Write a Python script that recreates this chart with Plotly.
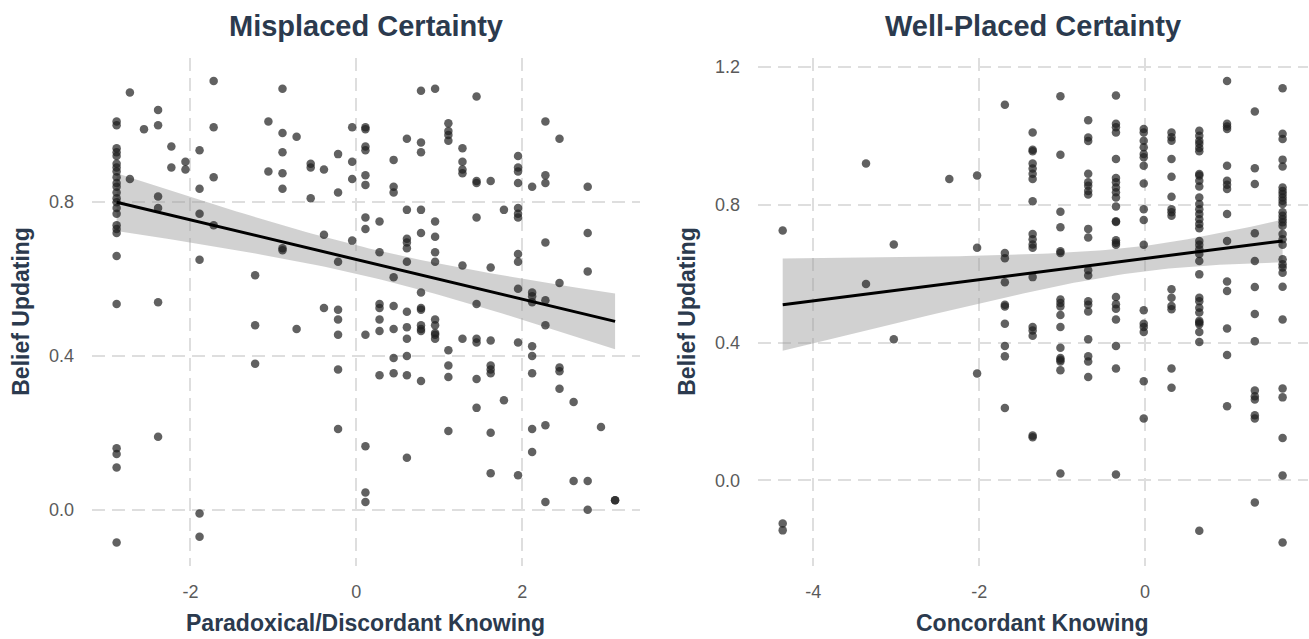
import numpy as np
import plotly.graph_objects as go

# ---------------- data ----------------
panel_titles = ["Misplaced Certainty", "Well-Placed Certainty"]
x_titles = ["Paradoxical/Discordant Knowing", "Concordant Knowing"]
y_title = "Belief Updating"

left_cols = {
    -2.89: [1.01, 1.0, 0.94, 0.93, 0.92, 0.90, 0.89, 0.88, 0.865, 0.85, 0.84, 0.825, 0.81, 0.80,
            0.785, 0.77, 0.74, 0.73, 0.72, 0.66, 0.535, 0.16, 0.145, 0.11, -0.085],
    -2.73: [1.085, 0.86],
    -2.56: [0.99],
    -2.39: [1.04, 1.0, 0.815, 0.785, 0.54, 0.19],
    -2.23: [0.945, 0.89],
    -2.06: [0.905, 0.885],
    -1.89: [0.935, 0.835, 0.77, 0.65, -0.01, -0.07],
    -1.72: [1.115, 0.995, 0.865, 0.74],
    -1.22: [0.61, 0.48, 0.38],
    -1.06: [1.01, 0.88],
    -0.89: [1.095, 0.98, 0.93, 0.875, 0.835, 0.68, 0.675],
    -0.72: [0.97, 0.47],
    -0.55: [0.90, 0.89, 0.81],
    -0.39: [0.885, 0.715, 0.525],
    -0.22: [0.925, 0.825, 0.645, 0.52, 0.495, 0.455, 0.365, 0.21],
    -0.05: [0.995, 0.905, 0.86, 0.70],
    0.11: [0.995, 0.99, 0.945, 0.935, 0.87, 0.845, 0.76, 0.73, 0.455, 0.165, 0.045, 0.02],
    0.28: [0.75, 0.67, 0.535, 0.525, 0.495, 0.465, 0.35],
    0.45: [0.91, 0.84, 0.825, 0.605, 0.53, 0.47, 0.395, 0.355],
    0.61: [0.965, 0.78, 0.705, 0.695, 0.68, 0.645, 0.515, 0.475, 0.445, 0.40, 0.35, 0.135],
    0.78: [1.09, 0.955, 0.93, 0.78, 0.72, 0.565, 0.525, 0.52, 0.48, 0.47, 0.465, 0.335],
    0.95: [1.095, 0.75, 0.71, 0.67, 0.645, 0.495, 0.48, 0.46, 0.455, 0.445],
    1.11: [1.005, 0.985, 0.975, 0.96, 0.415, 0.375, 0.345, 0.205],
    1.28: [0.94, 0.905, 0.885, 0.875, 0.635, 0.445],
    1.45: [1.075, 0.855, 0.85, 0.76, 0.535, 0.445, 0.435, 0.34, 0.265],
    1.62: [0.855, 0.63, 0.44, 0.375, 0.365, 0.355, 0.20, 0.095],
    1.78: [0.78, 0.285],
    1.95: [0.92, 0.89, 0.88, 0.85, 0.785, 0.77, 0.76, 0.665, 0.645, 0.575, 0.435, 0.09],
    2.12: [0.84, 0.565, 0.555, 0.54, 0.425, 0.40, 0.355, 0.21, 0.15],
    2.28: [1.01, 0.87, 0.85, 0.695, 0.545, 0.48, 0.22, 0.02],
    2.45: [0.965, 0.59, 0.37, 0.36, 0.315],
    2.62: [0.28, 0.075],
    2.79: [0.84, 0.72, 0.62, 0.075, 0.0],
    2.95: [0.215],
    3.12: [0.025, 0.025],
}

right_cols = {
    -4.37: [0.725, -0.125, -0.145],
    -3.365: [0.92, 0.57],
    -3.03: [0.685, 0.41],
    -2.36: [0.875],
    -2.025: [0.885, 0.675, 0.31],
    -1.69: [1.09, 0.66, 0.645, 0.575, 0.51, 0.505, 0.455, 0.39, 0.36, 0.21],
    -1.355: [1.01, 0.96, 0.955, 0.92, 0.905, 0.89, 0.875, 0.81, 0.715, 0.70, 0.685, 0.675, 0.59,
             0.445, 0.435, 0.42, 0.13, 0.125],
    -1.02: [1.115, 0.945, 0.78, 0.735, 0.665, 0.66, 0.525, 0.515, 0.505, 0.48, 0.445, 0.385,
            0.355, 0.35, 0.345, 0.32, 0.02],
    -0.685: [1.045, 0.995, 0.985, 0.89, 0.865, 0.855, 0.84, 0.83, 0.73, 0.705, 0.61, 0.595,
             0.52, 0.51, 0.49, 0.41, 0.36, 0.345, 0.30],
    -0.35: [1.117, 1.035, 1.025, 1.01, 0.933, 0.878, 0.865, 0.85, 0.836, 0.821, 0.795, 0.752,
            0.75, 0.697, 0.69, 0.684, 0.532, 0.511, 0.498, 0.467, 0.39, 0.325, 0.017],
    -0.015: [1.02, 1.01, 0.986, 0.967, 0.947, 0.938, 0.913, 0.862, 0.787, 0.756, 0.684, 0.494,
             0.455, 0.445, 0.431, 0.288, 0.18],
    0.32: [1.01, 0.996, 0.986, 0.933, 0.881, 0.823, 0.787, 0.778, 0.768, 0.555, 0.53, 0.506,
           0.497, 0.325, 0.269],
    0.655: [1.015, 1.0, 0.986, 0.977, 0.965, 0.955, 0.889, 0.885, 0.87, 0.853, 0.821, 0.802,
            0.787, 0.773, 0.758, 0.744, 0.732, 0.695, 0.684, 0.671, 0.657, 0.637, 0.598, 0.53,
            0.52, 0.501, 0.487, 0.463, 0.458, 0.453, 0.431, 0.402, -0.146],
    0.99: [1.159, 1.035, 1.027, 1.02, 0.913, 0.87, 0.858, 0.846, 0.773, 0.695, 0.577, 0.55,
           0.441, 0.364, 0.215],
    1.325: [1.071, 0.906, 0.86, 0.717, 0.637, 0.561, 0.483, 0.404, 0.261, 0.244, 0.235, 0.189,
            0.18, -0.064],
    1.66: [1.138, 1.006, 0.991, 0.931, 0.911, 0.85, 0.84, 0.831, 0.821, 0.812, 0.802, 0.778,
           0.768, 0.758, 0.749, 0.739, 0.715, 0.70, 0.684, 0.642, 0.627, 0.618, 0.603, 0.562,
           0.467, 0.267, 0.241, 0.123, 0.014, -0.18],
}

# fitted (lm) line values read at the two ends of each panel's x data range
left_fit_ends = [0.80, 0.49]
right_fit_ends = [0.51, 0.695]

left_xticks = [-2, 0, 2]
left_xticktext = ["-2", "0", "2"]
left_yticks = [0.0, 0.4, 0.8]
left_yticktext = ["0.0", "0.4", "0.8"]
right_xticks = [-4, -2, 0]
right_xticktext = ["-4", "-2", "0"]
right_yticks = [0.0, 0.4, 0.8, 1.2]
right_yticktext = ["0.0", "0.4", "0.8", "1.2"]


def flatten(cols):
    xs, ys = [], []
    for xv, yl in cols.items():
        for yv in yl:
            xs.append(xv)
            ys.append(yv)
    return np.array(xs), np.array(ys)


def lm_band(x, y, ends, n_pts=80):
    n = len(x)
    x0, x1 = x.min(), x.max()
    slope = (ends[1] - ends[0]) / (x1 - x0)
    intercept = ends[0] - slope * x0
    resid = y - (intercept + slope * x)
    s = np.sqrt(np.sum(resid ** 2) / (n - 2))
    xbar = x.mean()
    sxx = np.sum((x - xbar) ** 2)
    xg = np.linspace(x0, x1, n_pts)
    fit = intercept + slope * xg
    se = s * np.sqrt(1.0 / n + (xg - xbar) ** 2 / sxx)
    t = 1.97
    return xg, fit, fit - t * se, fit + t * se


def expand(v):
    lo, hi = min(v), max(v)
    d = (hi - lo) * 0.05
    return [lo - d, hi + d]


W, H = 1309, 639
fig = go.Figure()

panels = [
    dict(cols=left_cols, ends=left_fit_ends, xa="x", ya="y", dom=[91.7, 640.0]),
    dict(cols=right_cols, ends=right_fit_ends, xa="x2", ya="y2", dom=[757.7, 1307.6]),
]
ytop, ybot = 58.0, 565.5

point_color = "rgba(30,30,30,0.70)"
band_color = "rgba(153,153,153,0.45)"
navy = "#2b3a4e"

for i, p in enumerate(panels):
    x, y = flatten(p["cols"])
    xg, fit, lo, hi = lm_band(x, y, p["ends"])
    fig.add_trace(go.Scatter(x=np.concatenate([xg, xg[::-1]]),
                             y=np.concatenate([hi, lo[::-1]]),
                             fill="toself", fillcolor=band_color, line=dict(width=0),
                             mode="lines", hoverinfo="skip", showlegend=False,
                             xaxis=p["xa"], yaxis=p["ya"]))
    fig.add_trace(go.Scatter(x=x, y=y, mode="markers",
                             marker=dict(size=8.5, color=point_color, line=dict(width=0)),
                             showlegend=False, xaxis=p["xa"], yaxis=p["ya"]))
    fig.add_trace(go.Scatter(x=xg, y=fit, mode="lines", line=dict(color="black", width=3),
                             showlegend=False, xaxis=p["xa"], yaxis=p["ya"]))
    p["xr"] = expand(x)
    p["yr"] = expand(y)

grid = dict(showgrid=True, gridcolor="#dedede", gridwidth=1.6, griddash="13px,7px",
            zeroline=False, showline=False, ticks="outside", tickcolor="rgba(0,0,0,0)",
            tickfont=dict(family="Liberation Sans, Arial, sans-serif", size=18, color="#5a5a5a"))

ydom = [1 - ybot / H, 1 - ytop / H]
fig.update_layout(
    width=W, height=H, margin=dict(l=0, r=0, t=0, b=0),
    paper_bgcolor="white", plot_bgcolor="white", showlegend=False,
    xaxis=dict(domain=[panels[0]["dom"][0] / W, panels[0]["dom"][1] / W], range=panels[0]["xr"],
               tickvals=left_xticks, ticktext=left_xticktext, ticklen=10, anchor="y", **grid),
    yaxis=dict(domain=ydom, range=panels[0]["yr"], tickvals=left_yticks,
               ticktext=left_yticktext, ticklen=13, anchor="x", **grid),
    xaxis2=dict(domain=[panels[1]["dom"][0] / W, panels[1]["dom"][1] / W], range=panels[1]["xr"],
                tickvals=right_xticks, ticktext=right_xticktext, ticklen=10, anchor="y2", **grid),
    yaxis2=dict(domain=ydom, range=panels[1]["yr"], tickvals=right_yticks,
                ticktext=right_yticktext, ticklen=13, anchor="x2", **grid),
)

font_bold = "Liberation Sans, Arial, sans-serif"
for i, p in enumerate(panels):
    cx = (p["dom"][0] + p["dom"][1]) / 2 / W
    fig.add_annotation(text="<b>%s</b>" % panel_titles[i], x=cx, y=1 - 26 / H,
                       xref="paper", yref="paper", showarrow=False, xanchor="center",
                       yanchor="middle", font=dict(family=font_bold, size=29, color=navy))
    fig.add_annotation(text="<b>%s</b>" % x_titles[i], x=cx, y=1 - 623 / H,
                       xref="paper", yref="paper", showarrow=False, xanchor="center",
                       yanchor="middle", font=dict(family=font_bold, size=23, color=navy))
    ytx = [21, 687][i]
    fig.add_annotation(text="<b>%s</b>" % y_title, x=ytx / W, y=(ydom[0] + ydom[1]) / 2,
                       xref="paper", yref="paper", showarrow=False, textangle=-90,
                       xanchor="center", yanchor="middle",
                       font=dict(family=font_bold, size=23, color=navy))

fig.write_html("out.html", config={"displayModeBar": False},
               post_script="document.body.style.margin='0';document.body.style.overflow='hidden';")
